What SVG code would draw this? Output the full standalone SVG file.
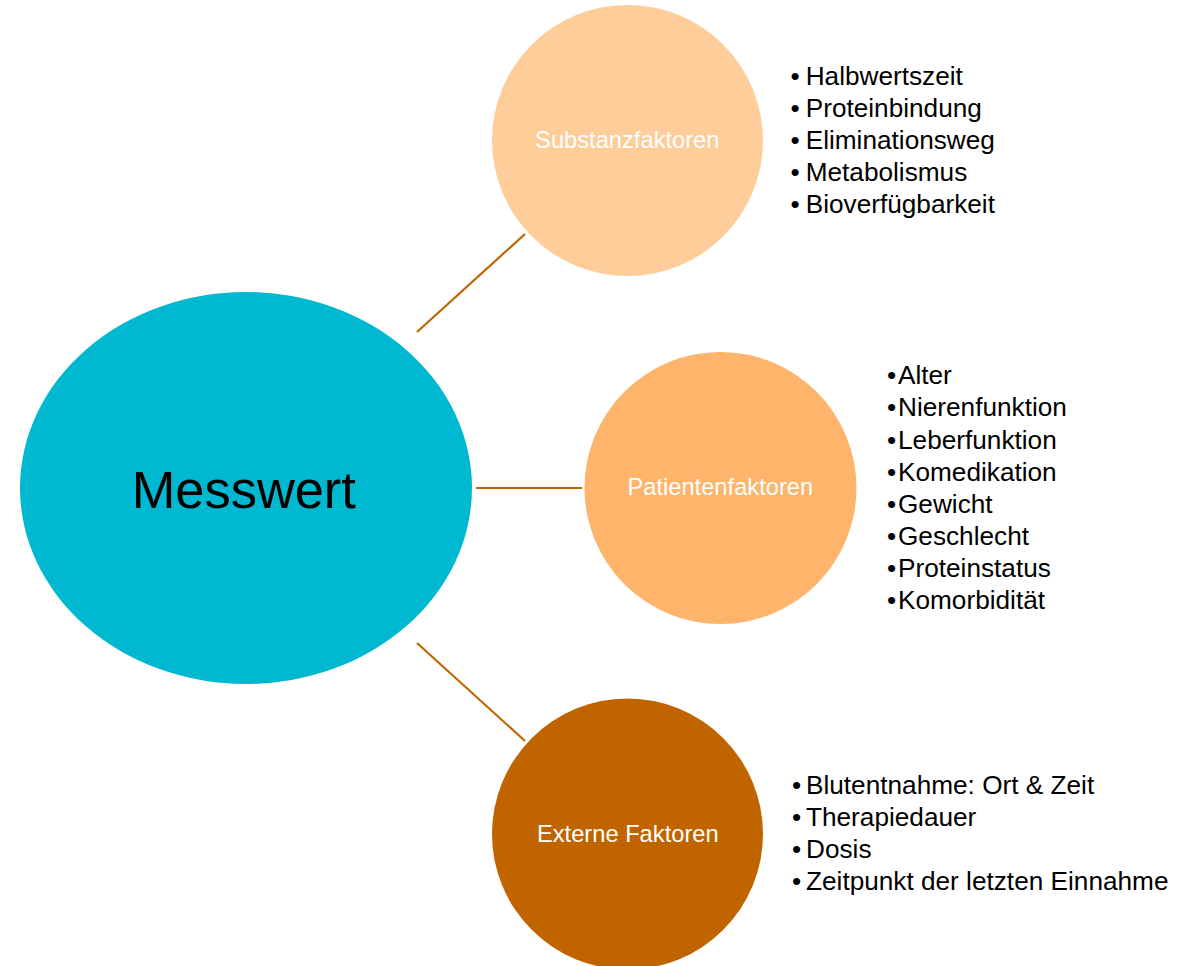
<svg xmlns="http://www.w3.org/2000/svg" width="1179" height="966" viewBox="0 0 1179 966">
<style>
.lbl{font-family:"Liberation Sans",Arial,sans-serif;font-size:23.7px;fill:#ffffff;text-anchor:middle}
.lst{font-family:"Liberation Sans",Arial,sans-serif;font-size:26.2px;fill:#000000}
.con{stroke:#C06400;stroke-width:2.2;fill:none}
</style>
<rect width="1179" height="966" fill="#ffffff"/>
<g id="connectors">
<line class="con" x1="417" y1="332" x2="525" y2="234"/>
<line class="con" x1="476" y1="488" x2="582" y2="488"/>
<line class="con" x1="417" y1="643" x2="525" y2="741"/>
</g>
<g id="messwert">
<ellipse cx="246" cy="488" rx="226" ry="196" fill="#00B8CF"/>
<text x="243.8" y="508.3" font-family="Liberation Sans, Arial, sans-serif" font-size="52.4" fill="#000000" text-anchor="middle">Messwert</text>
</g>
<g id="substanzfaktoren">
<circle cx="627.5" cy="140.5" r="135.5" fill="#FECD9A"/>
<text class="lbl" x="627.3" y="147.7">Substanzfaktoren</text>
</g>
<g id="patientenfaktoren">
<circle cx="720.5" cy="488" r="136" fill="#FEB46A"/>
<text class="lbl" x="720.3" y="495">Patientenfaktoren</text>
</g>
<g id="externe">
<circle cx="627.5" cy="834" r="135.5" fill="#C06400"/>
<text class="lbl" x="627.8" y="842">Externe Faktoren</text>
</g>
<g id="substanz-list" class="lst">
<text x="790.5" y="85.3">•<tspan x="805.7">Halbwertszeit</tspan></text>
<text x="790.5" y="117.3">•<tspan x="805.7">Proteinbindung</tspan></text>
<text x="790.5" y="149.3">•<tspan x="805.7">Eliminationsweg</tspan></text>
<text x="790.5" y="181.3">•<tspan x="805.7">Metabolismus</tspan></text>
<text x="790.5" y="213.3">•<tspan x="805.7">Bioverfügbarkeit</tspan></text>
</g>
<g id="patient-list" class="lst">
<text x="887" y="384.3">•<tspan x="898">Alter</tspan></text>
<text x="887" y="416.4">•<tspan x="898">Nierenfunktion</tspan></text>
<text x="887" y="448.5">•<tspan x="898">Leberfunktion</tspan></text>
<text x="887" y="480.6">•<tspan x="898">Komedikation</tspan></text>
<text x="887" y="512.7">•<tspan x="898">Gewicht</tspan></text>
<text x="887" y="544.8">•<tspan x="898">Geschlecht</tspan></text>
<text x="887" y="576.9">•<tspan x="898">Proteinstatus</tspan></text>
<text x="887" y="609">•<tspan x="898">Komorbidität</tspan></text>
</g>
<g id="externe-list" class="lst">
<text x="792" y="794.3">•<tspan x="806">Blutentnahme: Ort &amp; Zeit</tspan></text>
<text x="792" y="826.1">•<tspan x="806">Therapiedauer</tspan></text>
<text x="792" y="857.9">•<tspan x="806">Dosis</tspan></text>
<text x="792" y="889.7">•<tspan x="806">Zeitpunkt der letzten Einnahme</tspan></text>
</g>
</svg>
